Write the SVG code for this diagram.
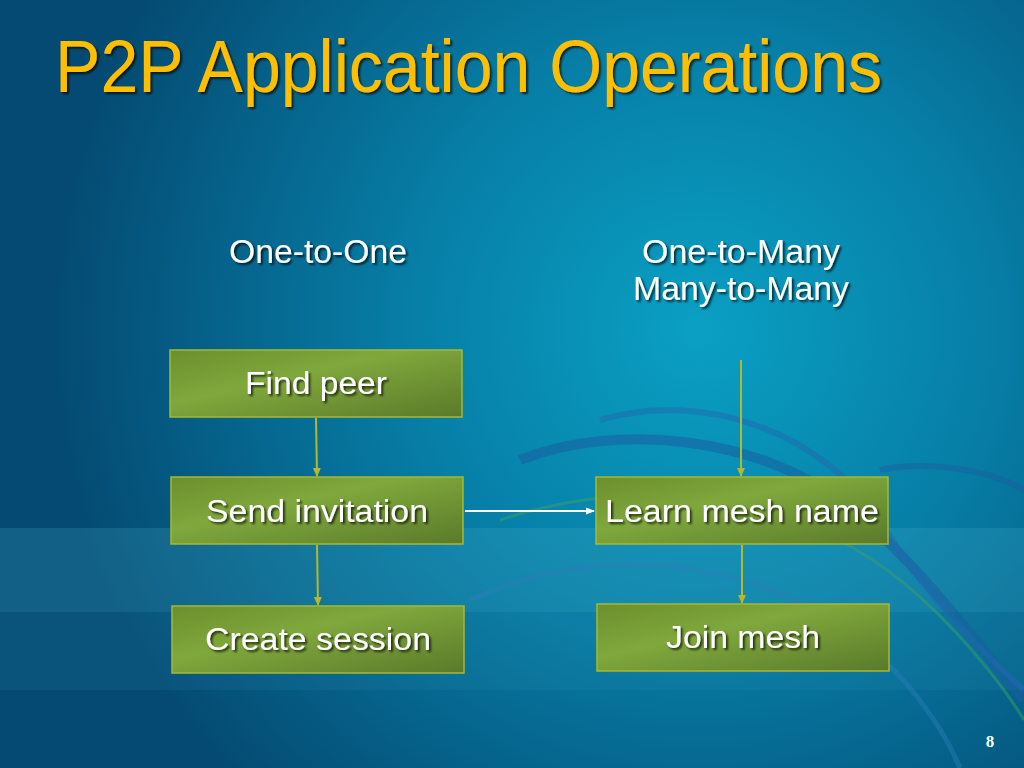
<svg xmlns="http://www.w3.org/2000/svg" width="1024" height="768" viewBox="0 0 1024 768">
<defs>
<radialGradient id="bg" cx="700" cy="330" r="650" gradientUnits="userSpaceOnUse">
<stop offset="0" stop-color="#0aa0c4"/>
<stop offset="0.45" stop-color="#077ea6"/>
<stop offset="1" stop-color="#044a72"/>
</radialGradient>
<linearGradient id="box" x1="0" y1="0" x2="1" y2="1">
<stop offset="0" stop-color="#6b8f2e"/>
<stop offset="0.4" stop-color="#7fa83c"/>
<stop offset="1" stop-color="#5a7a2a"/>
</linearGradient>
<filter id="sh" x="-10%" y="-20%" width="120%" height="150%">
<feDropShadow dx="2" dy="2" stdDeviation="1" flood-color="#000" flood-opacity="0.7"/>
</filter>
<marker id="ay" markerWidth="10" markerHeight="10" refX="8" refY="5" orient="auto" markerUnits="userSpaceOnUse">
<path d="M0,1 L9,5 L0,9 z" fill="#b5b82a"/>
</marker>
<marker id="aw" markerWidth="10" markerHeight="10" refX="8" refY="5" orient="auto" markerUnits="userSpaceOnUse">
<path d="M0,1.5 L9,5 L0,8.5 z" fill="#ffffff"/>
</marker>
<style>
.box{fill:url(#box);stroke:#a8b832;stroke-width:1.5}
.t{font-family:"Liberation Sans",Arial,sans-serif;fill:#ffffff;text-anchor:middle;filter:url(#sh)}
.c{stroke:#b5b82a;stroke-width:2;fill:none;marker-end:url(#ay)}
</style>
</defs>
<rect width="1024" height="768" fill="url(#bg)"/>
<g id="decor" fill="none">
<rect x="0" y="528" width="1024" height="84" fill="#4ab0cc" opacity="0.22"/>
<rect x="0" y="612" width="1024" height="78" fill="#3aa0c0" opacity="0.12"/>
<path d="M520,460 C620,420 760,440 840,500 C900,545 960,620 1024,700" stroke="#1a5fa0" stroke-width="10" opacity="0.55"/>
<path d="M600,420 C700,390 820,430 880,520 C920,590 980,650 1024,690" stroke="#1f6ab0" stroke-width="6" opacity="0.5"/>
<path d="M500,520 C650,470 800,500 900,580 C950,620 1000,680 1024,720" stroke="#3a9f6a" stroke-width="3" opacity="0.5"/>
<path d="M470,600 C600,540 760,560 860,640 C900,670 940,720 960,768" stroke="#2a7fb8" stroke-width="5" opacity="0.45"/>
<path d="M880,470 C930,460 990,470 1024,490" stroke="#1a5fa0" stroke-width="6" opacity="0.5"/>
</g>
<text x="55" y="92" font-family="'Liberation Sans',Arial,sans-serif" font-size="74" fill="#ffbf00" textLength="827" lengthAdjust="spacingAndGlyphs" filter="url(#sh)">P2P Application Operations</text>
<g id="headers">
<text class="t" x="318" y="263" font-size="33" textLength="178" lengthAdjust="spacingAndGlyphs">One-to-One</text>
<text class="t" x="741" y="263" font-size="33" textLength="198" lengthAdjust="spacingAndGlyphs">One-to-Many</text>
<text class="t" x="741" y="300" font-size="33" textLength="216" lengthAdjust="spacingAndGlyphs">Many-to-Many</text>
</g>
<g id="connectors">
<line class="c" x1="316" y1="418" x2="317" y2="476"/>
<line class="c" x1="317" y1="545" x2="318" y2="605"/>
<line class="c" x1="741" y1="360" x2="741" y2="476"/>
<line class="c" x1="742" y1="545" x2="742" y2="603"/>
<line x1="465" y1="511" x2="594" y2="511" stroke="#ffffff" stroke-width="2" marker-end="url(#aw)"/>
</g>
<g id="find-peer">
<rect class="box" x="170" y="350" width="292" height="67"/>
<text class="t" x="316" y="394" font-size="31" textLength="142" lengthAdjust="spacingAndGlyphs">Find peer</text>
</g>
<g id="send-invitation">
<rect class="box" x="171" y="477" width="292" height="67"/>
<text class="t" x="317" y="522" font-size="31" textLength="222" lengthAdjust="spacingAndGlyphs">Send invitation</text>
</g>
<g id="create-session">
<rect class="box" x="172" y="606" width="292" height="67"/>
<text class="t" x="318" y="650" font-size="31" textLength="226" lengthAdjust="spacingAndGlyphs">Create session</text>
</g>
<g id="learn-mesh-name">
<rect class="box" x="596" y="477" width="292" height="67"/>
<text class="t" x="742" y="522" font-size="31" textLength="274" lengthAdjust="spacingAndGlyphs">Learn mesh name</text>
</g>
<g id="join-mesh">
<rect class="box" x="597" y="604" width="292" height="67"/>
<text class="t" x="743" y="648" font-size="31" textLength="154" lengthAdjust="spacingAndGlyphs">Join mesh</text>
</g>
<text x="990" y="747" font-family="'Liberation Serif','Times New Roman',serif" font-size="17" font-weight="bold" fill="#ffffff" text-anchor="middle">8</text>
</svg>
